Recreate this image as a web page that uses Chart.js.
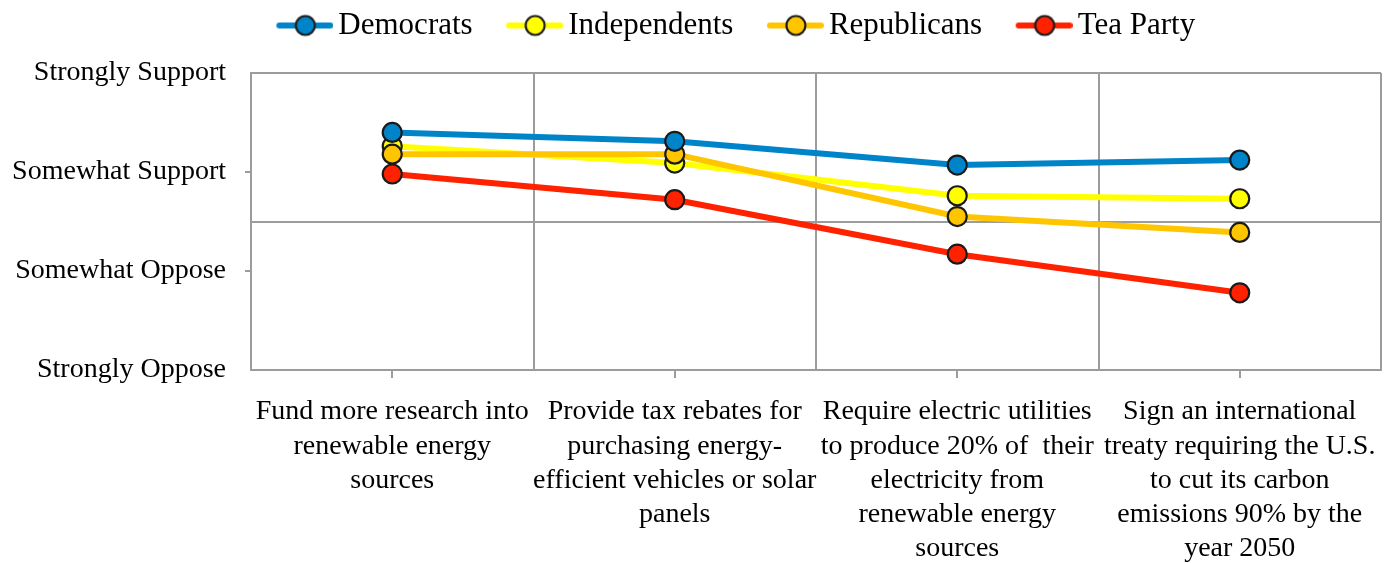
<!DOCTYPE html>
<html>
<head>
<meta charset="utf-8">
<script src="https://cdn.jsdelivr.net/npm/chart.js@4"></script>
<style>
html,body{margin:0;padding:0;background:#fff;}
#wrap{width:1386px;height:563px;}
</style>
</head>
<body>
<div id="wrap"><canvas id="c" width="1386" height="563"></canvas></div>
<script>
// ---- data ----
const categories = [
  ["Fund more research into", "renewable energy", "sources"],
  ["Provide tax rebates for", "purchasing energy-", "efficient vehicles or solar", "panels"],
  ["Require electric utilities", "to produce 20% of  their", "electricity from", "renewable energy", "sources"],
  ["Sign an international", "treaty requiring the U.S.", "to cut its carbon", "emissions 90% by the", "year 2050"]
];
const seriesNames = ["Democrats", "Independents", "Republicans", "Tea Party"];
const democrats    = [3.40, 3.31, 3.07, 3.12];
const independents = [3.26, 3.09, 2.76, 2.73];
const republicans  = [3.18, 3.18, 2.55, 2.39];
const teaParty     = [2.98, 2.72, 2.17, 1.78];
const xTickValues = [-0.5, 0, 0.5, 1, 1.5, 2, 2.5, 3, 3.5];
const yTickValues = [1, 2, 2.5, 3, 4];
const yTickLabels = ["Strongly Oppose", "Somewhat Oppose", "", "Somewhat Support", "Strongly Support"];

// ---- styles ----
const FONT = "'Liberation Serif', 'Times New Roman', serif";
const GRAY = '#9c9c9c';
const NONE = 'rgba(0,0,0,0)';
const colors = ['#0084c9', '#ffff00', '#ffc600', '#ff2200'];
const seriesValues = [democrats, independents, republicans, teaParty];
const drawOrder = [1, 3, 2, 4];
const LEGEND_FONT = 31;
const SYM_L = 34;          // transparent lead-in of each legend symbol
const SYM_W = SYM_L + 57;  // full symbol image width

function legendSymbol(color) {
  const H = 26;
  const cv = document.createElement('canvas');
  cv.width = SYM_W; cv.height = H;
  const g = cv.getContext('2d');
  g.strokeStyle = color; g.lineWidth = 6; g.lineCap = 'round';
  g.beginPath(); g.moveTo(SYM_L + 3, H / 2); g.lineTo(SYM_L + 54, H / 2); g.stroke();
  g.beginPath(); g.arc(SYM_L + 29, H / 2, 9.5, 0, Math.PI * 2);
  g.fillStyle = color; g.fill();
  g.lineWidth = 2.2; g.strokeStyle = '#1a1a1a'; g.stroke();
  return cv;
}
const symbols = colors.map(legendSymbol);

const datasets = seriesNames.map((name, i) => ({
  label: name,
  data: seriesValues[i].map((v, j) => ({x: j, y: v})),
  borderColor: colors[i],
  backgroundColor: colors[i],
  borderWidth: 6,
  tension: 0,
  pointRadius: 9.5,
  pointBorderWidth: 2.2,
  pointBorderColor: '#1a1a1a',
  pointBackgroundColor: colors[i],
  order: drawOrder[i]
}));

const legendShift = {
  id: 'legendShift',
  afterLayout(chart) {
    if (chart.legend) { chart.legend.left += 31; chart.legend.right += 31; }
  }
};

new Chart(document.getElementById('c'), {
  type: 'line',
  data: {datasets},
  plugins: [legendShift],
  options: {
    responsive: false,
    animation: false,
    events: [],
    layout: {autoPadding: false, padding: {left: 0, right: 0, top: 0, bottom: 0}},
    plugins: {
      tooltip: {enabled: false},
      title: {display: true, text: '', padding: 0, font: {size: 22, lineHeight: 1}, weight: 1000},
      legend: {
        position: 'top',
        weight: 3000,
        labels: {
          usePointStyle: true,
          pointStyleWidth: SYM_W - 21,
          padding: 10,
          color: '#000',
          font: {family: FONT, size: LEGEND_FONT},
          sort: (a, b) => a.datasetIndex - b.datasetIndex,
          generateLabels: chart => {
            const items = Chart.defaults.plugins.legend.labels.generateLabels(chart);
            items.forEach(it => { it.pointStyle = symbols[it.datasetIndex]; it.lineWidth = 0; });
            return items;
          }
        }
      }
    },
    scales: {
      x: {
        type: 'linear',
        min: -0.5, max: 3.5,
        afterBuildTicks: s => { s.ticks = xTickValues.map(v => ({value: v})); },
        afterFit: s => { s.height = 193; s.paddingLeft = 0; s.paddingRight = 5; },
        ticks: {
          autoSkip: false, maxRotation: 0, minRotation: 0, padding: 17,
          color: '#000',
          font: {family: FONT, size: 28, lineHeight: 1.22},
          callback: v => Number.isInteger(v) ? categories[v] : ''
        },
        grid: {
          color: c => (c.tick && !Number.isInteger(c.tick.value)) ? GRAY : NONE,
          lineWidth: 2,
          tickLength: 8,
          tickWidth: 2,
          tickColor: c => (c.tick && Number.isInteger(c.tick.value)) ? GRAY : NONE
        },
        border: {color: GRAY, width: 2}
      },
      y: {
        min: 1, max: 4,
        afterBuildTicks: s => { s.ticks = yTickValues.map(v => ({value: v})); },
        afterFit: s => { s.width = 251; },
        ticks: {
          autoSkip: false, padding: 19, color: '#000',
          font: {family: FONT, size: 28},
          callback: v => { const k = yTickValues.indexOf(v); return k >= 0 ? yTickLabels[k] : ''; }
        },
        grid: {
          color: c => (c.tick && (c.tick.value === 2.5 || c.tick.value === 4)) ? GRAY : NONE,
          lineWidth: 2,
          tickLength: 6,
          tickWidth: 2,
          tickColor: c => (c.tick && (c.tick.value === 2 || c.tick.value === 3)) ? GRAY : NONE
        },
        border: {color: GRAY, width: 2}
      }
    }
  }
});
</script>
</body>
</html>
